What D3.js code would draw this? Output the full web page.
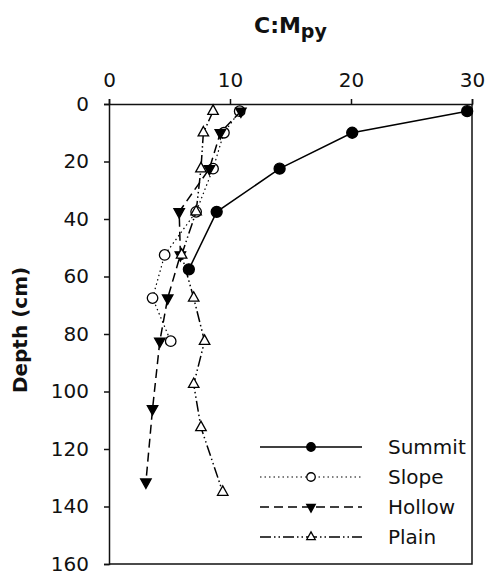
<!DOCTYPE html>
<html>
<head>
<meta charset="utf-8">
<script src="https://d3js.org/d3.v7.min.js"></script>
<style>
  body { margin: 0; background: #fff; }
  svg text { font-family: "DejaVu Sans", Verdana, sans-serif; fill: #111; }
</style>
</head>
<body>
<div id="chart-area"></div>
<script>
// series: C:Mpy ratio vs depth (cm)
var summitDepth = [2.5, 10, 22.5, 37.5, 57.5];
var summitVal   = [29.6, 20.1, 14.1, 8.9, 6.6];

var slopeDepth = [2.5, 10, 22.5, 37.5, 52.5, 67.5, 82.5];
var slopeVal   = [10.8, 9.5, 8.6, 7.2, 4.6, 3.6, 5.1];

var hollowDepth = [2.5, 10, 22.5, 37.5, 52.5, 67.5, 82.5, 106, 131.5];
var hollowVal   = [10.9, 9.2, 8.3, 5.8, 5.9, 4.85, 4.2, 3.6, 3.05];

var plainDepth = [2.5, 10, 22.5, 37.5, 52.5, 67.5, 82.5, 97.5, 112.5, 135];
var plainVal   = [8.6, 7.8, 7.6, 7.2, 6.0, 7.0, 7.9, 7.0, 7.6, 9.4];

var seriesNames = ["Summit", "Slope", "Hollow", "Plain"];
var xTicks = [0, 10, 20, 30];
var yTicks = [0, 20, 40, 60, 80, 100, 120, 140, 160];

var margin = { left: 109, right: 17, top: 104, bottom: 12 };
var width = 489 - margin.left - margin.right,
    height = 576 - margin.top - margin.bottom;

var svg = d3.select("#chart-area")
    .append("svg")
        .attr("width", 489)
        .attr("height", 576);

var g = svg.append("g")
    .attr("transform", "translate(" + margin.left + "," + margin.top + ")");

// Scales
var x = d3.scaleLinear().domain([0, 30]).range([0, width]);
var y = d3.scaleLinear().domain([0, 160]).range([0, height]);

// frame (right + bottom)
g.append("path")
    .attr("d", "M" + width + ",0V" + height + "H0")
    .attr("fill", "none")
    .attr("stroke", "#111")
    .attr("stroke-width", 1.5);

// Top axis
var xAxisCall = d3.axisTop(x)
    .tickValues(xTicks)
    .tickSize(5)
    .tickPadding(12)
    .tickFormat(d3.format("d"));
var xg = g.append("g").attr("class", "x axis").call(xAxisCall);

// Left axis
var yAxisCall = d3.axisLeft(y)
    .tickValues(yTicks)
    .tickSize(5)
    .tickPadding(15)
    .tickFormat(d3.format("d"));
var yg = g.append("g").attr("class", "y axis").call(yAxisCall);

[xg, yg].forEach(function(ax){
    ax.select(".domain").attr("stroke", "#111").attr("stroke-width", 1.5);
    ax.selectAll(".tick line").attr("stroke", "#111").attr("stroke-width", 1.5);
    ax.selectAll(".tick text")
        .attr("font-size", "20px")
        .attr("font-family", "DejaVu Sans, Verdana, sans-serif")
        .attr("fill", "#111");
});

// Labels
var title = svg.append("text")
    .attr("x", 254)
    .attr("y", 33)
    .attr("font-size", "22px")
    .attr("font-weight", "bold");
title.append("tspan").text("C:M");
title.append("tspan")
    .attr("font-size", "19px")
    .attr("dy", 5)
    .text("py");

svg.append("text")
    .attr("transform", "rotate(-90)")
    .attr("x", -330)
    .attr("y", 27)
    .attr("font-size", "20px")
    .attr("font-weight", "bold")
    .attr("text-anchor", "middle")
    .text("Depth (cm)");

// marker helpers
function triUp(cx, cy, w) {
    var h = w * 0.9;
    return "M" + cx + "," + (cy - h * 2 / 3) +
        "L" + (cx + w / 2) + "," + (cy + h / 3) +
        "L" + (cx - w / 2) + "," + (cy + h / 3) + "Z";
}
function triDown(cx, cy, w) {
    var h = w * 0.9;
    return "M" + cx + "," + (cy + h * 2 / 3) +
        "L" + (cx + w / 2) + "," + (cy - h / 3) +
        "L" + (cx - w / 2) + "," + (cy - h / 3) + "Z";
}

var styles = {
    Summit: { dash: null, width: 1.5, marker: "circle", fill: "#000" },
    Slope:  { dash: "1.5,3", width: 1.2, marker: "circle", fill: "#fff" },
    Hollow: { dash: "9,5", width: 1.5, marker: "down", fill: "#000" },
    Plain:  { dash: "11,3,1.5,3,1.5,3", width: 1.5, marker: "up", fill: "#fff" }
};

function drawMarker(sel, kind, cx, cy, s, fill) {
    if (kind === "circle") {
        sel.append("circle")
            .attr("cx", cx).attr("cy", cy).attr("r", s / 2)
            .attr("fill", fill).attr("stroke", "#000").attr("stroke-width", 1.3);
    } else {
        sel.append("path")
            .attr("d", kind === "up" ? triUp(cx, cy, s) : triDown(cx, cy, s))
            .attr("fill", fill).attr("stroke", "#000").attr("stroke-width", 1.3)
            .attr("stroke-linejoin", "miter");
    }
}

var seriesData = {
    Summit: d3.zip(summitVal, summitDepth),
    Slope:  d3.zip(slopeVal, slopeDepth),
    Hollow: d3.zip(hollowVal, hollowDepth),
    Plain:  d3.zip(plainVal, plainDepth)
};

var line = d3.line()
    .x(function(d){ return x(d[0]); })
    .y(function(d){ return y(d[1]); });

seriesNames.forEach(function(name){
    var st = styles[name];
    var sg = g.append("g").attr("class", "series");
    sg.append("path")
        .attr("d", line(seriesData[name]))
        .attr("fill", "none")
        .attr("stroke", "#000")
        .attr("stroke-width", st.width)
        .attr("stroke-dasharray", st.dash);
    seriesData[name].forEach(function(d){
        drawMarker(sg, st.marker, x(d[0]), y(d[1]), name === "Summit" ? 11 : 10.5, st.fill);
    });
});

// Legend
var legend = svg.append("g")
    .attr("transform", "translate(260,447)");

seriesNames.forEach(function(name, i){
    var st = styles[name];
    var row = legend.append("g")
        .attr("transform", "translate(0," + (i * 30) + ")");
    row.append("line")
        .attr("x1", 0).attr("x2", 102)
        .attr("stroke", "#000")
        .attr("stroke-width", st.width)
        .attr("stroke-dasharray", st.dash);
    drawMarker(row, st.marker, 51, 0, 8.5, st.fill);
    row.append("text")
        .attr("x", 128)
        .attr("y", 7)
        .attr("font-size", "20px")
        .text(name);
});
</script>
</body>
</html>
